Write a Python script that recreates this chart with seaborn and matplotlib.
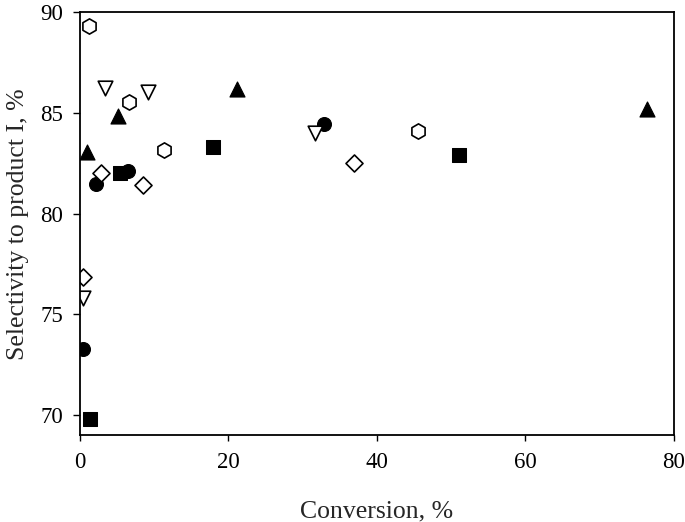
import pandas as pd
import numpy as np
import matplotlib.pyplot as plt
import seaborn as sns

# data (conversion %, selectivity %)
circ_x = [0.44, 2.11, 6.5, 32.86]
circ_y = [73.28, 81.46, 82.14, 84.44]
sq_x = [1.3, 5.39, 17.95, 51.08]
sq_y = [69.78, 82.01, 83.30, 82.92]
tri_x = [0.98, 5.16, 21.1, 76.4]
tri_y = [83.08, 84.87, 86.18, 85.19]
hex_x = [1.25, 6.6, 11.31, 45.48]
hex_y = [89.34, 85.54, 83.17, 84.13]
dia_x = [0.44, 2.83, 8.53, 36.94]
dia_y = [76.87, 82.04, 81.43, 82.50]
vtri_x = [0.44, 3.33, 9.16, 31.65]
vtri_y = [75.80, 86.23, 86.06, 84.03]

sns.set_style("ticks")
plt.rcParams['font.family'] = ['Liberation Serif', 'DejaVu Serif']

fig = plt.figure(figsize=(6.85, 5.22), dpi=100)
ax = fig.add_axes([0.1168, 0.1667, 0.867, 0.8094])

# filled markers
sns.scatterplot(x=circ_x, y=circ_y, marker='o', s=100, color='black', edgecolor='black', ax=ax)
sns.scatterplot(x=sq_x, y=sq_y, marker='s', s=88, color='black', edgecolor='black', ax=ax)
sns.scatterplot(x=tri_x, y=tri_y, marker='^', s=116, color='black', edgecolor='black', ax=ax)
# open markers
sns.scatterplot(x=hex_x, y=hex_y, marker='h', s=120, color='white', edgecolor='black', linewidth=1.2, ax=ax)
sns.scatterplot(x=dia_x, y=dia_y, marker='D', s=75, color='white', edgecolor='black', linewidth=1.2, ax=ax)
sns.scatterplot(x=vtri_x, y=vtri_y, marker='v', s=110, color='white', edgecolor='black', linewidth=1.2, ax=ax)

ax.set_xlim(0, 80)
ax.set_ylim(69, 90)
ax.set_xticks([0, 20, 40, 60, 80])
ax.set_yticks([70, 75, 80, 85, 90])
ax.tick_params(axis='both', labelsize=16.5, colors='black', width=1)
ax.tick_params(axis='x', length=4.5, pad=7.5)
ax.tick_params(axis='y', length=5, pad=7)
for sp in ax.spines.values():
    sp.set_visible(True)
    sp.set_color('black')
    sp.set_linewidth(1.3)

ax.set_xlabel("Conversion, %", fontsize=18.5, labelpad=20)
ax.set_ylabel("Selectivity to product I, %", fontsize=18.5, labelpad=8)

fig.savefig("out.png", dpi=100)
